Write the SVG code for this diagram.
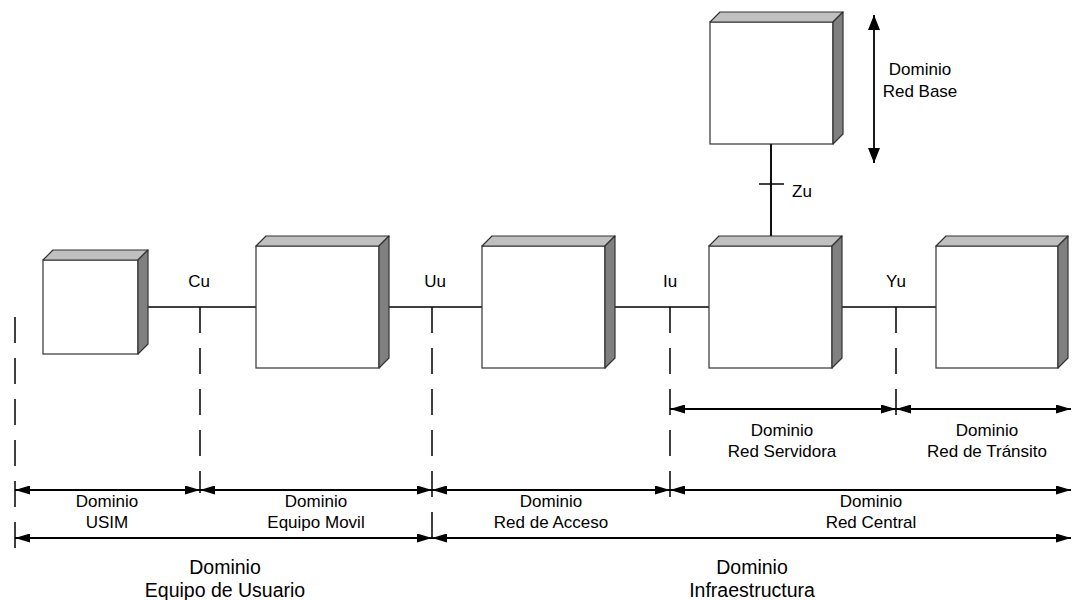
<svg xmlns="http://www.w3.org/2000/svg" width="1073" height="600" viewBox="0 0 1073 600">
<style>
.front{fill:#ffffff;stroke:#333333;stroke-width:1.2}
.top{fill:#c0c0c0;stroke:#333333;stroke-width:1.2;stroke-linejoin:round}
.side{fill:#808080;stroke:#333333;stroke-width:1.2;stroke-linejoin:round}
.ln{stroke:#000;stroke-width:1.5;fill:none}
.dash{stroke:#000;stroke-width:1.5;fill:none;stroke-dasharray:26 15}
.arr{stroke:#000;stroke-width:1.8;fill:none;marker-start:url(#ah);marker-end:url(#ah)}
.varr{stroke:#000;stroke-width:1.8;fill:none;marker-start:url(#ahb);marker-end:url(#ahb)}
text{font-family:"Liberation Sans",Arial,sans-serif;font-size:17px;fill:#000;text-anchor:middle}
.big{font-size:19.5px}
</style>
<defs>
<marker id="ah" markerUnits="userSpaceOnUse" markerWidth="15" markerHeight="9" refX="15" refY="4.5" orient="auto-start-reverse"><path d="M0,0 L15,4.5 L0,9 Z" fill="#000"/></marker>
<marker id="ahb" markerUnits="userSpaceOnUse" markerWidth="15" markerHeight="12" refX="15" refY="6" orient="auto-start-reverse"><path d="M0,0 L15,6 L0,12 Z" fill="#000"/></marker>
</defs>

<g id="connectors">
<line class="ln" x1="138" y1="307" x2="256" y2="307"/>
<line class="ln" x1="379" y1="307" x2="482" y2="307"/>
<line class="ln" x1="605" y1="307" x2="709" y2="307"/>
<line class="ln" x1="832" y1="307" x2="936" y2="307"/>
<line class="ln" x1="771" y1="144" x2="771" y2="246"/>
<line class="ln" x1="759" y1="184" x2="784" y2="184"/>
</g>

<g id="node-usim">
<rect class="front" x="43" y="260" width="95" height="94"/>
<polygon class="top" points="43,260 53,250 148,250 138,260"/>
<polygon class="side" points="138,260 148,250 148,344 138,354"/>
</g>
<g id="node-equipo-movil">
<rect class="front" x="256" y="246" width="123" height="122"/>
<polygon class="top" points="256,246 266,236 389,236 379,246"/>
<polygon class="side" points="379,246 389,236 389,358 379,368"/>
</g>
<g id="node-red-acceso">
<rect class="front" x="482" y="246" width="123" height="122"/>
<polygon class="top" points="482,246 492,236 615,236 605,246"/>
<polygon class="side" points="605,246 615,236 615,358 605,368"/>
</g>
<g id="node-red-servidora">
<rect class="front" x="709" y="246" width="123" height="122"/>
<polygon class="top" points="709,246 719,236 842,236 832,246"/>
<polygon class="side" points="832,246 842,236 842,358 832,368"/>
</g>
<g id="node-red-transito">
<rect class="front" x="936" y="246" width="122" height="122"/>
<polygon class="top" points="936,246 946,236 1068,236 1058,246"/>
<polygon class="side" points="1058,246 1068,236 1068,358 1058,368"/>
</g>
<g id="node-red-base">
<rect class="front" x="710" y="22" width="123" height="122"/>
<polygon class="top" points="710,22 720,12 843,12 833,22"/>
<polygon class="side" points="833,22 843,12 843,134 833,144"/>
</g>

<g id="connector-zu-line">
<line class="ln" x1="771" y1="144" x2="771" y2="236"/>
</g>

<g id="dividers">
<line class="dash" x1="15" y1="317" x2="15" y2="548"/>
<line class="dash" x1="200" y1="307" x2="200" y2="493"/>
<line class="dash" x1="432" y1="307" x2="432" y2="548"/>
<line class="dash" x1="670" y1="307" x2="670" y2="497"/>
<line class="dash" x1="896" y1="307" x2="896" y2="415"/>
</g>

<g id="domain-arrows">
<line class="varr" x1="874" y1="15" x2="874" y2="163"/>
<line class="arr" x1="670" y1="409" x2="896" y2="409"/>
<line class="arr" x1="896" y1="409" x2="1071" y2="409"/>
<line class="arr" x1="15" y1="490" x2="200" y2="490"/>
<line class="arr" x1="200" y1="490" x2="432" y2="490"/>
<line class="arr" x1="432" y1="490" x2="670" y2="490"/>
<line class="arr" x1="670" y1="490" x2="1071" y2="490"/>
<line class="arr" x1="15" y1="538" x2="432" y2="538"/>
<line class="arr" x1="432" y1="538" x2="1071" y2="538"/>
</g>

<g id="labels">
<text x="199" y="287">Cu</text>
<text x="435" y="287">Uu</text>
<text x="670" y="287">Iu</text>
<text x="896" y="287">Yu</text>
<text x="792" y="197" style="text-anchor:start">Zu</text>
<text x="920" y="75">Dominio</text>
<text x="920" y="97">Red Base</text>
<text x="782" y="436">Dominio</text>
<text x="782" y="457">Red Servidora</text>
<text x="987" y="436">Dominio</text>
<text x="987" y="457">Red de Tránsito</text>
<text x="107" y="507">Dominio</text>
<text x="107" y="528">USIM</text>
<text x="316" y="507">Dominio</text>
<text x="316" y="528">Equipo Movil</text>
<text x="551" y="507">Dominio</text>
<text x="551" y="528">Red de Acceso</text>
<text x="871" y="507">Dominio</text>
<text x="871" y="528">Red Central</text>
<text class="big" x="225" y="574">Dominio</text>
<text class="big" x="225" y="597">Equipo de Usuario</text>
<text class="big" x="752" y="574">Dominio</text>
<text class="big" x="752" y="597">Infraestructura</text>
</g>
</svg>
